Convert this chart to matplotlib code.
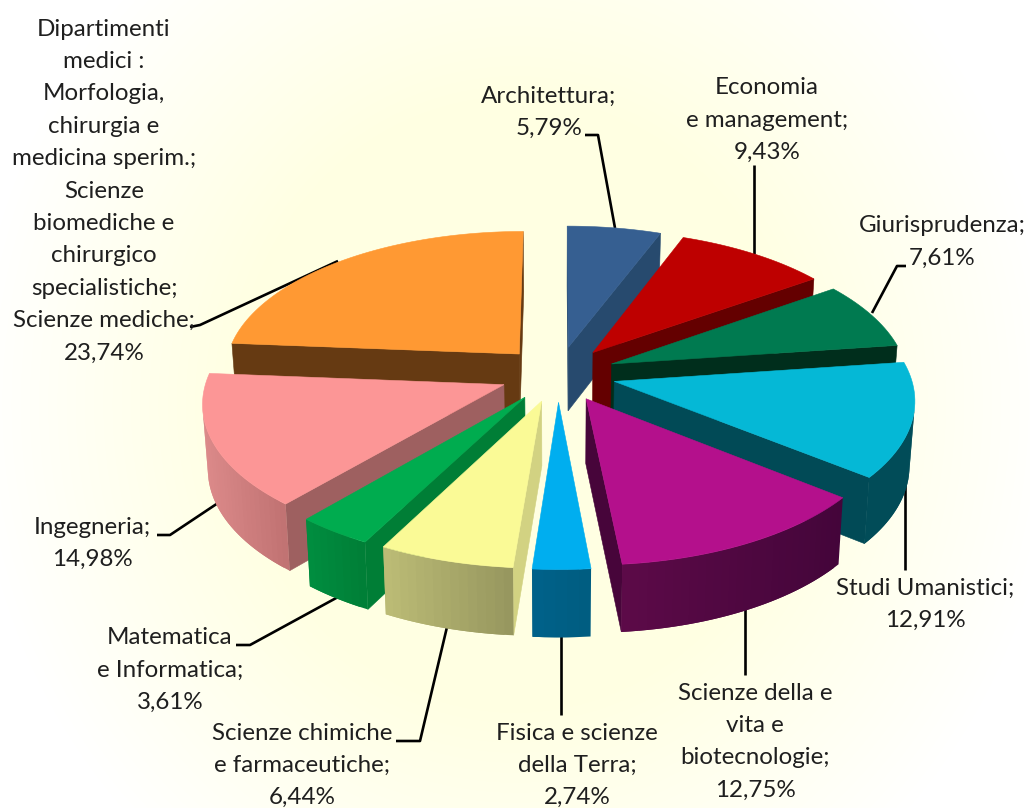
import numpy as np
import matplotlib
matplotlib.use("Agg")
import matplotlib.pyplot as plt
from matplotlib.patches import Polygon
from matplotlib.colors import to_rgb

plt.rcParams["font.family"] = ["Lato", "DejaVu Sans"]

# dati, in senso orario dalle ore 12
nomi = [
    ["Architettura;"],
    ["Economia", "e management;"],
    ["Giurisprudenza;"],
    ["Studi Umanistici;"],
    ["Scienze della e", "vita e", "biotecnologie;"],
    ["Fisica e scienze", "della Terra;"],
    ["Scienze chimiche", "e farmaceutiche;"],
    ["Matematica", "e Informatica;"],
    ["Ingegneria;"],
    ["Dipartimenti", "medici :", "Morfologia,", "chirurgia e", "medicina sperim.;", "Scienze",
     "biomediche e", "chirurgico", "specialistiche;", "Scienze mediche;"],
]
valori = [5.79, 9.43, 7.61, 12.91, 12.75, 2.74, 6.44, 3.61, 14.98, 23.74]

# colori: piano, faccia radiale, esterno sinistra, esterno destra
colori = [
    ("#365F91", "#274A6E", "#2A4C72", "#274A6E"),
    ("#BE0000", "#640000", "#640000", "#5A0000"),
    ("#007A50", "#002E1C", "#002E1C", "#002E1C"),
    ("#05B8D6", "#014A56", "#014C58", "#014C58"),
    ("#B4108C", "#47053A", "#5C0A48", "#44053A"),
    ("#00AEEF", "#005F85", "#00628A", "#005C80"),
    ("#FAFA96", "#D2D282", "#BCBC76", "#96965E"),
    ("#00AC4F", "#007E36", "#008E40", "#007E36"),
    ("#FC9696", "#9E6060", "#DC8A8A", "#C07272"),
    ("#FF9933", "#663A12", "#663A12", "#663A12"),
]

# posizione del testo: centro x, y prima riga
pos_testo = [(549, 96), (767, 88), (942, 226), (925, 588), (755, 693),
             (577, 733), (302, 733), (170, 638), (92, 527), (104, 29)]
# linee guida
guide = [
    [(585, 135), (598, 135), (615, 228)],
    [(754, 165), (754, 254)],
    [(906, 266), (897, 266), (872, 313)],
    [(905, 483), (905, 570)],
    [(745, 608), (745, 675)],
    [(561, 635), (561, 715)],
    [(447, 627), (420, 741), (396, 741)],
    [(338, 597), (250, 645), (236, 645)],
    [(218, 503), (170, 535), (157, 535)],
    [(338, 261), (200, 325), (190, 327)],
]

# geometria della torta
CX, CY = 558, 374
R, RK = 296, 141
P = 0.115
ESPL = 0.196
DEPTH = 64
PASSO_RIGA = 32.4


def proietta(u, v, basso=False):
    s = 1 / (1 + P * v)
    x = CX + R * u * s
    y = CY - RK * v * s
    if basso:
        x = CX + (x - CX) * 0.985
        y = y + DEPTH * (1 - 0.05 * v)
    return x, y


def area(pts):
    pts = np.array(pts)
    x, y = pts[:, 0], pts[:, 1]
    return np.sum(x * np.roll(y, -1) - np.roll(x, -1) * y) / 2


def quad(ax, pts, col, z):
    ax.add_patch(Polygon(pts, closed=True, facecolor=col, edgecolor=col, lw=0.4, zorder=z))


fig = plt.figure(figsize=(10.30, 8.08), dpi=100)
ax = fig.add_axes([0, 0, 1, 1])
ax.set_xlim(0, 1030)
ax.set_ylim(808, 0)
ax.axis("off")

# sfondo sfumato
xx, yy = np.meshgrid(np.arange(1030), np.arange(808))
d = np.sqrt(((xx - 515) / 515) ** 2 + ((yy - 404) / 560) ** 2)
t = np.clip((d - 0.55) / 0.5, 0, 1)
sfondo = np.ones((808, 1030, 3))
sfondo[..., 2] = 0.89 + 0.11 * t
ax.imshow(sfondo, extent=(0, 1030, 808, 0), aspect="auto", zorder=0)

for g in guide:
    ax.plot(*zip(*g), color="black", lw=1.9, zorder=1, solid_capstyle="butt")

bordi = np.concatenate([[0], np.cumsum(valori)]) / sum(valori) * 2 * np.pi
medi = (bordi[:-1] + bordi[1:]) / 2

ordine = np.argsort(-np.cos(medi))
z = 2
for i in ordine:
    t1, t2 = bordi[i], bordi[i + 1]
    m = medi[i]
    du, dv = ESPL * np.sin(m), ESPL * np.cos(m)
    top, radiale, est_sx, est_dx = colori[i]
    th = np.linspace(t1, t2, max(int((t2 - t1) * 40), 4))
    arco_u = du + np.sin(th)
    arco_v = dv + np.cos(th)
    a_t = proietta(du, dv)
    a_b = proietta(du, dv, True)
    arco_t = [proietta(u, v) for u, v in zip(arco_u, arco_v)]
    arco_b = [proietta(u, v, True) for u, v in zip(arco_u, arco_v)]

    # facce radiali
    f1 = [a_t, arco_t[0], arco_b[0], a_b]
    f2 = [a_t, arco_t[-1], arco_b[-1], a_b]
    if area(f1) < 0:
        quad(ax, f1, radiale, z)
        z += 1
    if area(f2) > 0:
        quad(ax, f2, radiale, z)
        z += 1

    # bordo esterno con sfumatura orizzontale, strisce sovrapposte per non avere giunte
    xs = [p[0] for p in arco_t]
    c_sx, c_dx = np.array(to_rgb(est_sx)), np.array(to_rgb(est_dx))
    n = len(th)
    for j in range(n - 1):
        q = [arco_t[j], arco_t[j + 1], arco_b[j + 1], arco_b[j]]
        if area(q) < 0:
            k = min(j + 2, n - 1)
            q2 = [arco_t[j], arco_t[j + 1], arco_t[k], arco_b[k], arco_b[j + 1], arco_b[j]]
            f = ((xs[j] + xs[j + 1]) / 2 - min(xs)) / max(max(xs) - min(xs), 1)
            col = tuple(c_sx + (c_dx - c_sx) * f)
            ax.add_patch(Polygon(q2, closed=True, facecolor=col, edgecolor="none", zorder=z))
            z += 0.001
    z = int(z) + 1

    quad(ax, [a_t] + arco_t, top, z)
    z += 1

# etichette
for righe, v, (x, y) in zip(nomi, valori, pos_testo):
    testo = righe + [f"{v:.2f}%".replace(".", ",")]
    for k, r in enumerate(testo):
        ax.text(x, y + k * PASSO_RIGA, r, ha="center", va="center", fontsize=17.4,
                color="#1f1f1f", zorder=200)

fig.savefig("out.png", dpi=100)
